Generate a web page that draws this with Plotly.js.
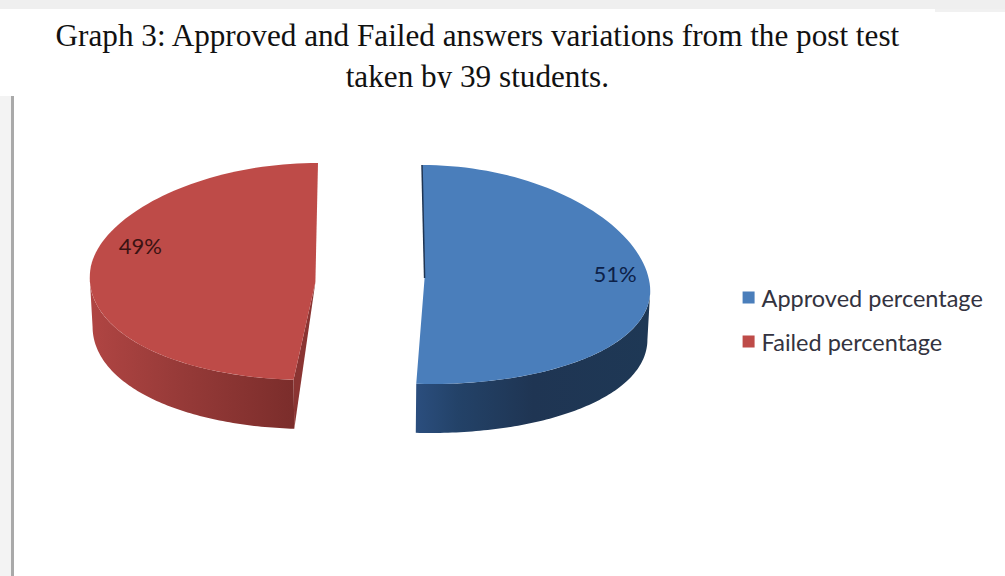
<!DOCTYPE html>
<html>
<head>
<meta charset="utf-8">
<script src="https://cdn.plot.ly/plotly-3.0.1.min.js"></script>
<style>
  html, body { margin: 0; padding: 0; background: #fff; overflow: hidden; }
  #wrap { position: relative; width: 1005px; height: 576px; }
  #chart { position: absolute; left: 0; top: 0; width: 1005px; height: 576px; }
  /* The panel below the caption sits over the lower edge of its last line. */
  #panel-edge { position: absolute; left: 100px; top: 88px; width: 800px; height: 10px; background: #fff; }
</style>
</head>
<body>
<div id="wrap">
  <div id="chart"></div>
  <div id="panel-edge"></div>
</div>
<script>
// Post-test results
const categories = ["Approved percentage", "Failed percentage"];
const values = [51, 49];
const labelAngles = [88, 282];
const labelRadii = [0.85, 0.81];

// Drawing styles
const topColors = ["#4a7ebb", "#be4b48"];
const sideScales = [
  [[0, "#2b4e7e"], [0.18, "#234268"], [0.5, "#1f3553"], [1, "#1e3855"]],
  [[0, "#b04543"], [0.45, "#963a38"], [1, "#7b2d2b"]]
];
const cutColors = ["#1f3553", "#8a3432"];
const labelColors = ["#0d2148", "#3a1212"];
const explodeDir = [1, -1];

// Projection of the tilted, exploded disc onto the page
const cX = 370, radius = 204, explode = 52;
const discY = [280, 266], ryBack = [115, 103], ryFront = [104, 114];
const apexY = [278, 282], apexScale = 1.05;
const depth = 49, bottomScale = 0.99;

function project(i, thetaDeg, r, lowered) {
  const t = thetaDeg * Math.PI / 180;
  const v = -Math.cos(t) * r;
  const X = explodeDir[i] * explode + radius * Math.sin(t) * r;
  const k = 1.09 + 0.09 * v;
  const y = discY[i] + v * (v < 0 ? ryBack[i] : ryFront[i]) + (lowered ? depth : 0);
  const x = cX + X * k * (lowered ? bottomScale : 1);
  return [x, y];
}
function apex(i) {
  return [cX + explodeDir[i] * explode * apexScale, apexY[i]];
}
function arc(i, from, to, lowered) {
  const pts = [];
  const n = 90;
  for (let j = 0; j <= n; j++) pts.push(project(i, from + (to - from) * j / n, 1, lowered));
  return pts;
}
function poly(pts, extra) {
  return Object.assign({
    x: pts.map(p => p[0]), y: pts.map(p => p[1]),
    type: "scatter", mode: "none", fill: "toself",
    showlegend: false, hoverinfo: "skip"
  }, extra);
}

// Slice angles follow the values, clockwise from the top of the disc
const total = values.reduce((a, b) => a + b, 0);
const spans = [];
let start = 0;
values.forEach(val => { spans.push([start, start + val / total * 360]); start += val / total * 360; });

const traces = [];
const silhouette = [96, 264];   // outermost visible angles of the rim, per side

// Blue slice: rim from the right extreme round to the front corner
{
  const [a, b] = spans[0];
  const rim = arc(0, silhouette[0], b, true).concat(arc(0, b, silhouette[0], false));
  traces.push(poly(rim, { line: {width: 0}, fillgradient: { type: "horizontal", colorscale: sideScales[0] } }));
  traces.push(poly(arc(0, a, b, false).concat([apex(0)]), { fillcolor: topColors[0] }));
  const edge = [project(0, a, 1, false), apex(0)];
  traces.push({ x: edge.map(p => p[0]), y: edge.map(p => p[1]), type: "scatter", mode: "lines",
    line: { color: cutColors[0], width: 1.5 }, showlegend: false, hoverinfo: "skip" });
}

// Red slice: rim from the front corner round to the left extreme, cut face beside it
{
  const [a, b] = spans[1];
  const rim = arc(1, a, silhouette[1], true).concat(arc(1, silhouette[1], a, false));
  traces.push(poly(rim, { line: {width: 0}, fillgradient: { type: "horizontal", colorscale: sideScales[1] } }));
  traces.push(poly([apex(1), project(1, a, 1, true), project(1, a, 1, false)], { fillcolor: cutColors[1] }));
  traces.push(poly(arc(1, a, b, false).concat([apex(1)]), { fillcolor: topColors[1] }));
}

// Percentage labels
values.forEach((val, i) => {
  const p = project(i, labelAngles[i], labelRadii[i], false);
  traces.push({
    x: [p[0]], y: [p[1]], type: "scatter", mode: "text", text: [val + "%"],
    textposition: "middle center", showlegend: false, hoverinfo: "skip",
    textfont: { family: "Lato, sans-serif", size: 22, color: labelColors[i] }
  });
});

// Legend entries
categories.forEach((name, i) => {
  traces.push({
    x: [null], y: [null], type: "scatter", mode: "markers", name: name,
    legendgroup: name,
    marker: { symbol: "square", size: 12, color: topColors[i] }
  });
});

const layout = {
  width: 1005, height: 576,
  margin: { l: 0, r: 0, t: 0, b: 0 },
  paper_bgcolor: "#fff", plot_bgcolor: "#fff",
  title: {
    text: "Graph 3: Approved and Failed answers variations from the post test<br>taken by 39 students.",
    font: { family: "Liberation Serif, serif", size: 31.2, color: "#111" },
    x: 0.475, xanchor: "center", y: 0.92, yanchor: "top"
  },
  xaxis: { range: [0, 1005], visible: false, fixedrange: true },
  yaxis: { range: [576, 0], visible: false, fixedrange: true },
  showlegend: true,
  legend: {
    x: 0.718, xanchor: "left", y: 0.445, yanchor: "middle",
    bgcolor: "rgba(0,0,0,0)", tracegroupgap: 10.5,
    font: { family: "Lato, sans-serif", size: 23.5, color: "#333340" }
  },
  shapes: [
    { type: "rect", xref: "x", yref: "y", x0: 0, x1: 1005, y0: 0, y1: 9, fillcolor: "#efefef", line: { width: 0 }, layer: "below" },
    { type: "rect", xref: "x", yref: "y", x0: 935, x1: 1005, y0: 9, y1: 12, fillcolor: "#f1f1f1", line: { width: 0 }, layer: "below" },
    { type: "rect", xref: "x", yref: "y", x0: 0, x1: 11, y0: 96, y1: 576, fillcolor: "#f3f3f3", line: { width: 0 }, layer: "below" },
    { type: "rect", xref: "x", yref: "y", x0: 11, x1: 14, y0: 96, y1: 576, fillcolor: "#a9a9a9", line: { width: 0 }, layer: "below" }
  ]
};

Plotly.newPlot("chart", traces, layout, { displayModeBar: false, staticPlot: true }).then(() => {
  // Keys sit close to their legend text
  document.querySelectorAll(".legend .legendsymbols").forEach(g => g.setAttribute("transform", "translate(7,0)"));
});
</script>
</body>
</html>
